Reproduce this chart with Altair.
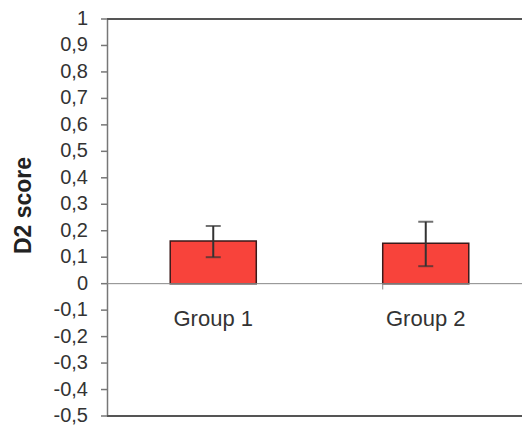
import altair as alt
import pandas as pd

categories = ["Group 1", "Group 2"]
means = [0.161, 0.153]
err_low = [0.100, 0.066]
err_high = [0.218, 0.234]
y_ticks = [-0.5, -0.4, -0.3, -0.2, -0.1, 0.0, 0.1, 0.2, 0.3, 0.4, 0.5, 0.6, 0.7, 0.8, 0.9, 1.0]
y_min, y_max = -0.5, 1.0

df = pd.DataFrame({"cat": categories, "mean": means, "lo": err_low, "hi": err_high})
ticks_df = pd.DataFrame({"v": y_ticks})

W, H = 415, 397
FONT = "Liberation Sans"

xscale = alt.Scale(domain=categories, range=[0, 425], paddingInner=0.595, paddingOuter=0.2975)
yscale = alt.Scale(domain=[y_min, y_max], nice=False, zero=False)

zero_offset = -H * (0 - y_min) / (y_max - y_min)

x_axis = alt.Axis(
    title=None, orient="bottom", offset=zero_offset, domain=False, ticks=False,
    labelPadding=42, labelBaseline="alphabetic", labelFont=FONT, labelFontSize=22,
    labelColor="#333", labelAngle=0, grid=False, labelOverlap=False,
)
y_axis = alt.Axis(
    title="D2 score", grid=False, labels=False, ticks=False,
    domainColor="#777", domainWidth=1.5,
    titleFont=FONT, titleFontSize=23, titleFontWeight="bold", titleColor="#222",
    titleAngle=270, titleAlign="center", titleBaseline="middle", titleX=-84, titleY=186,
)

one = pd.DataFrame({"k": [0]})

bars = alt.Chart(df).mark_bar(fill="#f8433b", stroke="#3a1a1a", strokeWidth=1.5).encode(
    x=alt.X("cat:N", scale=xscale, axis=x_axis, sort=categories),
    y=alt.Y("mean:Q", scale=yscale, axis=y_axis),
    y2=alt.datum(0),
)

y_labels = alt.Chart(ticks_df).transform_calculate(
    label="replace(replace(format(datum.v, '.1~f'), '\u2212', '-'), '.', ',')"
).mark_text(align="right", baseline="middle", font=FONT, fontSize=20, color="#333").encode(
    x=alt.value(-19), y=alt.Y("v:Q"), text="label:N",
)
y_tick_marks = alt.Chart(ticks_df).mark_rule(color="#777", strokeWidth=1.5).encode(
    x=alt.value(-6), x2=alt.value(0), y=alt.Y("v:Q"),
)

zero_line = alt.Chart(one).mark_rule(color="#888", strokeWidth=1).encode(y=alt.datum(0))
top_line = alt.Chart(one).mark_rule(color="#555", strokeWidth=2).encode(
    x=alt.value(0), x2=alt.value(W), y=alt.value(0))
bottom_line = alt.Chart(one).mark_rule(color="#555", strokeWidth=2).encode(
    x=alt.value(0), x2=alt.value(W), y=alt.value(H))

cat_tick = alt.Chart(pd.DataFrame({"cat": categories[1:]})).mark_rule(color="#888", strokeWidth=1).encode(
    x=alt.X("cat:N", bandPosition=0),
    y=alt.datum(0),
    y2=alt.datum(-0.022),
)

err_rule = alt.Chart(df).mark_rule(color="#333", strokeWidth=2).encode(
    x=alt.X("cat:N"),
    y=alt.Y("lo:Q"),
    y2="hi:Q",
)
cap_hi = alt.Chart(df).mark_tick(color="#333", orient="horizontal", size=15, thickness=2).encode(
    x=alt.X("cat:N"), y=alt.Y("hi:Q"),
)
cap_lo = alt.Chart(df).mark_tick(color="#333", orient="horizontal", size=15, thickness=2).encode(
    x=alt.X("cat:N"), y=alt.Y("lo:Q"),
)

chart = alt.layer(bars, y_tick_marks, y_labels, zero_line, top_line, bottom_line, cat_tick,
                  err_rule, cap_hi, cap_lo).properties(
    width=W, height=H,
    background="white",
    autosize=alt.AutoSizeParams(type="none"),
    padding={"left": 99, "top": 11, "right": 0, "bottom": 9},
).configure_view(stroke=None)

chart.save("out.html", embed_options={
    "renderer": "svg", "actions": False,
    "formatLocale": {"decimal": ",", "thousands": ".", "grouping": [3], "currency": ["", ""], "minus": "-"},
})
